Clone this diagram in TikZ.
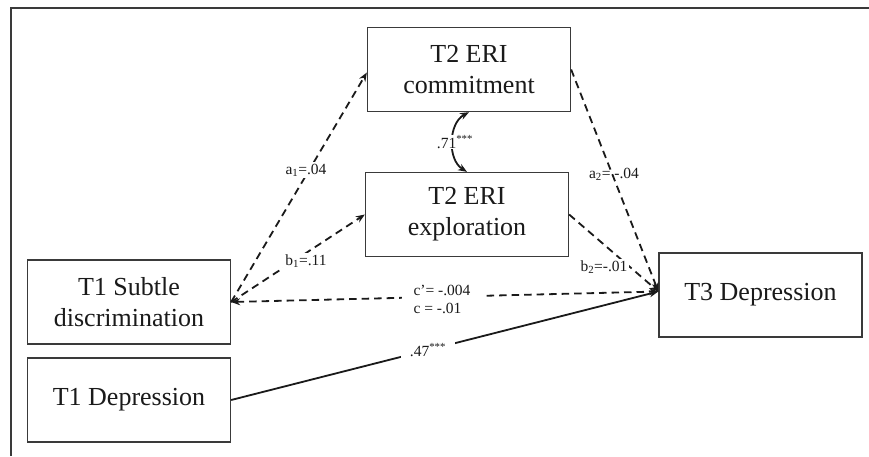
\documentclass[tikz,border=0pt]{standalone}
\usepackage{fontspec}
\setmainfont{Liberation Serif}
\usetikzlibrary{arrows.meta}
\definecolor{boxc}{HTML}{3A3A3A}
\definecolor{lnc}{HTML}{1A1A1A}
\definecolor{txt}{HTML}{1A1A1A}
\begin{document}
\begin{tikzpicture}[x=1pt,y=-1pt,
 box/.style={draw=boxc, line width=1.3pt, minimum width=203pt, minimum height=84pt, align=center, font=\fontsize{26}{31}\selectfont, text=txt, inner sep=0pt},
 lab/.style={font=\fontsize{15.5}{18}\selectfont, text=txt, inner sep=2pt},
 dsh/.style={line width=1.8pt, dash pattern=on 7.5pt off 5pt, draw=lnc},
 sol/.style={line width=1.8pt, draw=lnc},
 tip/.style={-{Stealth[length=9pt,width=7pt]}},
 tips/.style={{Stealth[length=9pt,width=7pt]}-{Stealth[length=9pt,width=7pt]}}
]
\useasboundingbox (0,0) rectangle (869,456);
\fill[white] (0,0) rectangle (869,456);
\draw[line width=2pt, draw=boxc] (10.5,456) -- (10.5,8) -- (869,8);

\node[box] (com) at (469,69.5) {T2 ERI\\commitment};
\node[box] (exp) at (467,214.5) {T2 ERI\\exploration};
\node[box] (sub) at (129,302) {T1 Subtle\\discrimination};
\node[box] (dep) at (129,400) {T1 Depression};
\node[box] (t3) at (760.5,295) {T3 Depression};
\coordinate (t3in) at ([yshift=3.5pt]t3.west);

% paths
\draw[dsh, tip] (sub.east) -- ([yshift=-3pt]com.west);
\draw[dsh, tip] (sub.east) -- (exp.west);
\draw[dsh, tip] (com.east) -- (t3in);
\draw[dsh, tip] (exp.east) -- (t3in);
\draw[dsh, tips] (sub.east) -- (t3in);
\draw[sol, tip] (dep.east) -- (t3in);
\draw[sol, tips] (com.south) to[bend right=60] (exp.north);

% labels
\node[lab, fill=white] (la1) at (306,170) {a\textsubscript{1}=.04};
\node[lab, fill=white] (lb1) at (306,261) {b\textsubscript{1}=.11};
\node[lab] (la2) at (614,174) {a\textsubscript{2}= -.04};
\node[lab, fill=white] (lb2) at (604,267) {b\textsubscript{2}=-.01};
\node[lab, fill=white, align=left, inner xsep=12pt, inner ysep=1pt] (lc) at (442,299) {c’= -.004\\c = -.01};
\node[lab, fill=white, inner xsep=9pt] (l47) at (428,350) {.47\textsuperscript{***}};
\node[lab, fill=white, inner sep=1pt] (l71) at (455,142) {.71\textsuperscript{***}};
\end{tikzpicture}
\end{document}
